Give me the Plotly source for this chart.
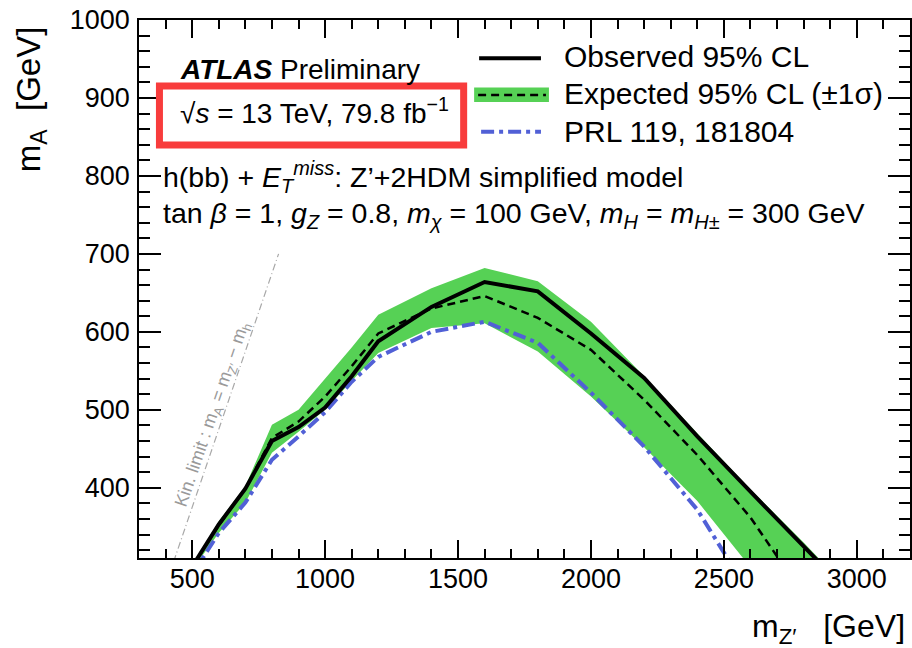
import plotly.graph_objects as go

# ---------------- data ----------------
mzp = [500, 600, 700, 800, 900, 1000, 1100, 1200, 1400, 1600, 1800, 2000, 2200, 2400, 2600, 2800, 3000]
observed = [299, 353, 399, 460, 478, 503, 543, 588, 632, 664, 652, 598, 541, 466, 395, 325, 255]
expected = [299, 352, 399, 464, 485, 517, 556, 598, 630, 646, 618, 577, 513, 442, 362, 262, 180]
band_up = [300, 357, 402, 481, 500, 540, 580, 622, 656, 682, 665, 613, 543, 470, 398, 330, 258]
band_dn = [295, 342, 381, 445, 472, 500, 537, 573, 605, 611, 575, 517, 452, 383, 298, 230, 160]
prl = [289, 342, 381, 436, 466, 497, 536, 568, 600, 613, 586, 522, 453, 372, 262, 200, 140]

kin_mzp = [430, 825]
kin_ma = [305, 700]

x_ticks = [500, 1000, 1500, 2000, 2500, 3000]
y_ticks = [400, 500, 600, 700, 800, 900, 1000]

# ---------------- layout helpers ----------------
W, H = 912, 648
L, R, T, B = 139, 0, 20, 90
PW, PH = W - L - R, H - T - B


def px(x):
    return (x - L) / PW


def py(y):
    return (H - B - y) / PH


FONT = "Liberation Sans, Arial, Helvetica, sans-serif"
GREEN = "#56d155"
BLUE = "#5160d6"

fig = go.Figure()

# expected +-1 sigma band
fig.add_trace(go.Scatter(
    x=mzp + mzp[::-1], y=band_up + band_dn[::-1],
    fill="toself", fillcolor=GREEN, line=dict(width=0),
    mode="lines", name="Expected 95% CL (±1σ)", showlegend=False, hoverinfo="skip"))

# kinematic limit
fig.add_trace(go.Scatter(
    x=kin_mzp, y=kin_ma, mode="lines",
    line=dict(color="#a8a8a8", width=1.2, dash="7px,3px,1px,3px"),
    showlegend=False, hoverinfo="skip"))

# previous result
fig.add_trace(go.Scatter(
    x=mzp, y=prl, mode="lines", name="PRL 119, 181804",
    line=dict(color=BLUE, width=4, dash="13px,5px,4px,5px"), showlegend=False))

# expected
fig.add_trace(go.Scatter(
    x=mzp, y=expected, mode="lines", name="Expected 95% CL",
    line=dict(color="black", width=2.5, dash="8px,5px"), showlegend=False))

# observed
fig.add_trace(go.Scatter(
    x=mzp, y=observed, mode="lines", name="Observed 95% CL",
    line=dict(color="black", width=4), showlegend=False))

axis_common = dict(
    showline=True, linecolor="black", linewidth=1.5, mirror="allticks",
    ticks="inside", tickwidth=1.5, tickcolor="black",
    showgrid=False, zeroline=False,
    tickfont=dict(family=FONT, size=27, color="black"),
)

fig.update_xaxes(range=[300, 3200], tickvals=x_ticks, ticklen=18,
                 minor=dict(dtick=100, tick0=0, ticklen=9, tickwidth=1.5, ticks="inside", tickcolor="black"),
                 ticklabelstandoff=-4, **axis_common)
fig.update_yaxes(range=[310, 1000], tickvals=y_ticks, ticklen=22,
                 minor=dict(dtick=20, tick0=0, ticklen=11, tickwidth=1.5, ticks="inside", tickcolor="black"),
                 ticklabelstandoff=2, **axis_common)

ann = []


def text(x, y, s, size=28, color="black", xanchor="left", angle=0, yanchor="middle"):
    ann.append(dict(x=px(x), y=py(y), xref="paper", yref="paper", text=s, showarrow=False,
                    xanchor=xanchor, yanchor=yanchor, textangle=angle,
                    font=dict(family=FONT, size=size, color=color)))


text(178, 69, "<b><i>ATLAS</i></b> Preliminary")
text(178, 111, "√<i>s</i> = 13 TeV, 79.8 fb<sup>−1</sup>")
text(161, 177, "h(bb) + <i>E</i><sub><i>T</i></sub><sup><i>miss</i></sup>: Z’+2HDM simplified model", size=28.5)
text(161, 215, "tan <i>β</i> = 1, <i>g<sub>Z</sub></i> = 0.8, <i>m<sub>χ</sub></i> = 100 GeV, "
               "<i>m<sub>H</sub></i> = <i>m<sub>H±</sub></i> = 300 GeV", size=28.5)

# legend text
text(563, 56, "Observed 95% CL", size=30)
text(563, 93, "Expected 95% CL (±1σ)", size=30)
text(563, 131, "PRL 119, 181804", size=30)

# kinematic limit label
text(213, 414, "Kin. limit : m<sub>A</sub> = m<sub>Z′</sub> − m<sub>h</sub>", size=18,
     color="#9a9a9a", xanchor="center", angle=-71)

# axis titles
text(909, 628, "m<sub>Z′</sub>   [GeV]", size=32, xanchor="right")
text(31, 99, "m<sub>A</sub>  [GeV]", size=33, xanchor="center", angle=-90)

shapes = [
    # legend keys
    dict(type="line", xref="paper", yref="paper", x0=px(480), x1=px(542), y0=py(58.3), y1=py(58.3),
         line=dict(color="black", width=4)),
    dict(type="rect", xref="paper", yref="paper", x0=px(475), x1=px(550), y0=py(87.5), y1=py(102),
         fillcolor=GREEN, line=dict(width=0)),
    dict(type="line", xref="paper", yref="paper", x0=px(479), x1=px(547), y0=py(95), y1=py(95),
         line=dict(color="black", width=2.5, dash="8px,5px")),
    dict(type="line", xref="paper", yref="paper", x0=px(482), x1=px(542), y0=py(131.7), y1=py(131.7),
         line=dict(color=BLUE, width=4, dash="13px,5px,4px,5px")),
    # red highlight box
    dict(type="rect", xref="paper", yref="paper", x0=px(159.5), x1=px(464.5), y0=py(86), y1=py(145),
         line=dict(color="#f83c3c", width=7), fillcolor="rgba(0,0,0,0)"),
]

fig.update_layout(
    width=W, height=H, autosize=False,
    margin=dict(l=L, r=R, t=T, b=B, pad=0),
    paper_bgcolor="white", plot_bgcolor="white",
    annotations=ann, shapes=shapes, showlegend=False,
    font=dict(family=FONT, color="black"),
)

fig.write_html("out.html")
